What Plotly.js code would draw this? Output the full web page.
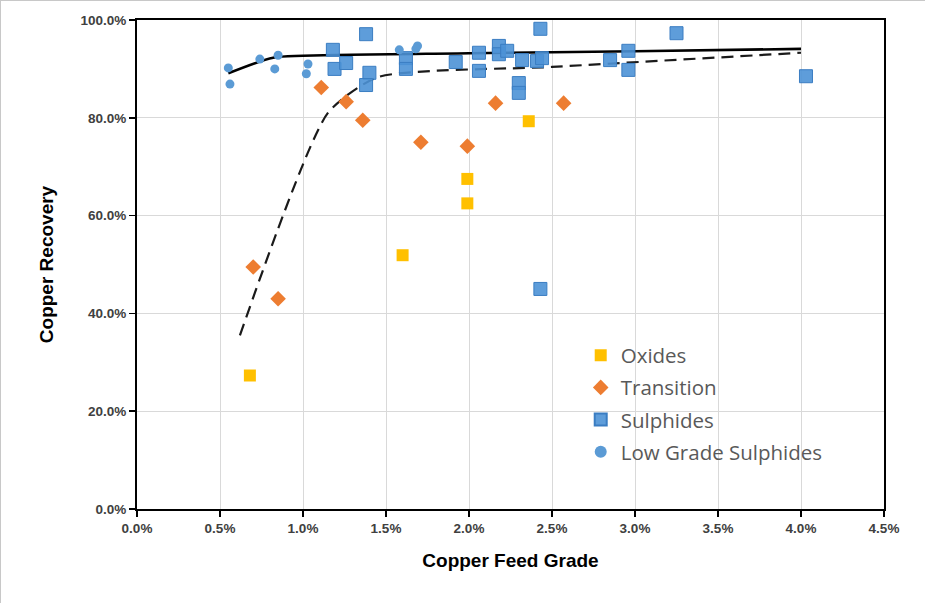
<!DOCTYPE html>
<html>
<head>
<meta charset="utf-8">
<script src="https://cdn.plot.ly/plotly-3.0.1.min.js"></script>
<style>
  html, body { margin: 0; padding: 0; background: #fff; }
  #chart { width: 925px; height: 603px; box-sizing: border-box; border: 1px solid #c8c8c8; }
</style>
</head>
<body>
<div id="chart"></div>
<script>
// Copper feed grade (%) and copper recovery (%)
const oxidesX = [0.68, 1.60, 1.99, 1.99, 2.36];
const oxidesY = [27.3, 51.9, 62.5, 67.5, 79.3];

const transitionX = [0.70, 0.85, 1.11, 1.26, 1.36, 1.71, 1.99, 2.16, 2.57];
const transitionY = [49.5, 43.0, 86.2, 83.3, 79.5, 75.0, 74.2, 83.0, 83.0];

const sulphidesX = [1.18, 1.19, 1.26, 1.38, 1.40, 1.38, 1.62, 1.62, 1.92, 2.06, 2.06, 2.18, 2.18, 2.23, 2.32, 2.43, 2.41, 2.44, 2.30, 2.30, 2.85, 2.96, 2.96, 3.25, 4.03, 2.43];
const sulphidesY = [93.9, 90.0, 91.2, 97.1, 89.2, 86.7, 92.2, 90.0, 91.4, 93.3, 89.6, 94.7, 93.0, 93.7, 91.8, 98.2, 91.6, 92.2, 87.1, 85.1, 91.8, 93.7, 89.8, 97.3, 88.5, 45.0];

const lowGradeX = [0.55, 0.56, 0.74, 0.83, 0.85, 1.02, 1.03, 1.58, 1.69, 1.68];
const lowGradeY = [90.2, 86.9, 92.0, 90.0, 92.8, 89.0, 91.0, 93.9, 94.7, 94.1];

// Trend curves
const trendSolidX = [0.55, 0.82, 1.0, 2.0, 3.0, 4.0];
const trendSolidY = [89.1, 92.3, 92.7, 93.2, 93.6, 94.1];
const trendDashX = [0.62, 1.15, 1.45, 2.5, 4.0];
const trendDashY = [35.5, 81.0, 88.3, 90.4, 93.3];

const legendFont = {family: '"Open Sans", "Noto Sans", sans-serif', size: 20.5, color: '#595959'};

const traces = [
  {x: trendSolidX, y: trendSolidY, mode: 'lines', line: {color: '#000', width: 2.6, shape: 'spline', smoothing: 0.8}, showlegend: false, hoverinfo: 'skip'},
  {x: trendDashX, y: trendDashY, mode: 'lines', line: {color: '#1a1a1a', width: 2.2, dash: '12px,7px', shape: 'spline', smoothing: 0.6}, showlegend: false, hoverinfo: 'skip'},
  {x: oxidesX, y: oxidesY, name: 'Oxides', mode: 'markers', legendgroup: 'a',
   marker: {symbol: 'square', size: 12, color: '#ffc000', line: {width: 0}}},
  {x: transitionX, y: transitionY, name: 'Transition', mode: 'markers', legendgroup: 'b',
   marker: {symbol: 'diamond', size: 12, color: '#ed7d31', line: {width: 0}}},
  {x: sulphidesX, y: sulphidesY, name: 'Sulphides', mode: 'markers', legendgroup: 'c',
   marker: {symbol: 'square', size: 13, color: 'rgba(76,146,214,0.9)', line: {width: 1, color: '#3a7dc2'}}},
  {x: lowGradeX, y: lowGradeY, name: 'Low Grade Sulphides', mode: 'markers', legendgroup: 'd',
   marker: {symbol: 'circle', size: 9, color: '#5b9bd5', line: {width: 0}}}
];

const tickFont = {family: '"Liberation Sans", Arial, sans-serif', size: 13.5, color: '#404040', weight: 'bold'};
const titleFont = {family: '"Liberation Sans Narrow", "Liberation Sans", Arial, sans-serif', size: 19, color: '#000', weight: 'bold'};

const layout = {
  width: 925, height: 603,
  margin: {l: 136, r: 42, t: 19, b: 95},
  paper_bgcolor: '#fff', plot_bgcolor: '#fff',
  showlegend: true,
  legend: {x: 0.594, y: 0.355, xanchor: 'left', yanchor: 'top', font: legendFont,
           bgcolor: 'rgba(255,255,255,0)', tracegroupgap: 2.5, itemsizing: 'constant', itemwidth: 30},
  xaxis: {
    range: [0, 4.5], dtick: 0.5, tick0: 0, tickformat: '.1f', ticksuffix: '%',
    showgrid: true, gridcolor: '#d9d9d9', gridwidth: 1,
    showline: true, linecolor: '#000', linewidth: 2, mirror: true,
    ticks: 'outside', ticklen: 6, tickcolor: '#000', tickwidth: 1.5,
    zeroline: false, tickfont: tickFont,
    title: {text: 'Copper Feed Grade', font: titleFont, standoff: 18}
  },
  yaxis: {
    range: [0, 100], dtick: 20, tick0: 0, tickformat: '.1f', ticksuffix: '%',
    showgrid: true, gridcolor: '#d9d9d9', gridwidth: 1,
    showline: true, linecolor: '#000', linewidth: 2, mirror: true,
    ticks: 'outside', ticklen: 6, tickcolor: '#000', tickwidth: 1.5,
    zeroline: false, tickfont: tickFont,
    title: {text: 'Copper Recovery', font: titleFont, standoff: 22}
  },
  hovermode: false
};

Plotly.newPlot('chart', traces, layout, {displayModeBar: false, staticPlot: true});
</script>
</body>
</html>
